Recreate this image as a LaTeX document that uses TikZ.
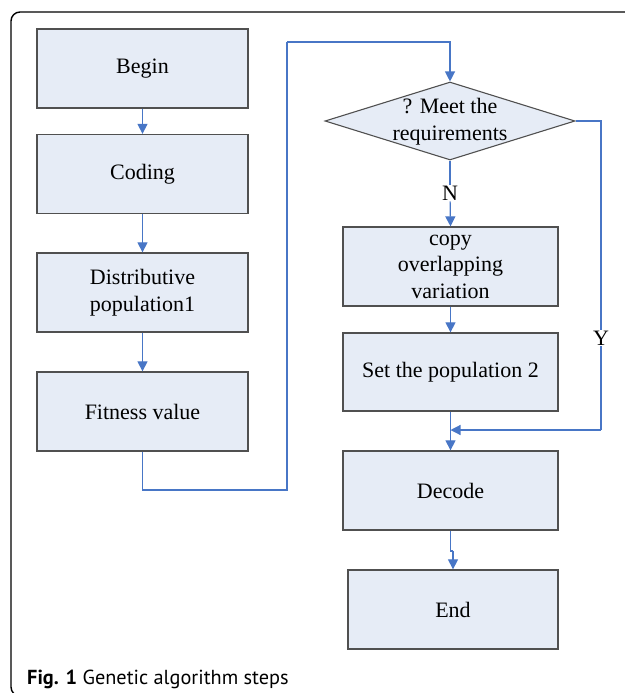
\documentclass[tikz,border=0pt]{standalone}
\usepackage{fontspec}
\setmainfont{Liberation Serif}
\newfontfamily\capfont{PT Sans}
\usetikzlibrary{arrows.meta,shapes.geometric}
\definecolor{boxfill}{RGB}{230,236,246}
\definecolor{boxline}{RGB}{80,80,80}
\definecolor{conblue}{RGB}{72,118,198}
\tikzset{
  stepbox/.style={draw=boxline, fill=boxfill, line width=1.3pt, inner sep=0pt,
    minimum width=211pt, minimum height=79pt, align=center,
    font=\rmfamily\fontsize{22}{26.5}\selectfont},
  conn/.style={draw=conblue, line width=1.2pt},
  arr/.style={conn, -{Triangle[length=10pt,width=10pt]}},
  lbl/.style={font=\rmfamily\fontsize{22}{26.5}\selectfont, inner sep=2pt}
}
\begin{document}
\begin{tikzpicture}[x=1pt,y=-1pt]
\useasboundingbox (0,0) rectangle (624,693);
% frame
\draw[line width=1.4pt, rounded corners=9pt] (11,12) rectangle (700,696);
% left column
\node[stepbox] (begin) at (142.5,68.5) {Begin};
\node[stepbox] (coding) at (142.5,174) {Coding};
\node[stepbox] (dist) at (142.5,292.5) {Distributive\\population1};
\node[stepbox] (fit) at (142.5,411.5) {Fitness value};
% right column
\node[draw=boxline, fill=boxfill, line width=1.1pt, shape=diamond, inner sep=0pt,
      minimum width=250pt, minimum height=78pt] (dia) at (450,121) {};
\node[lbl, align=center] (diatext) at (450,121.5) {? Meet the\\requirements};
\node[stepbox, minimum width=215pt] (copy) at (450.5,266.5) {copy\\overlapping\\variation};
\node[stepbox, minimum width=215pt, minimum height=78pt] (setpop) at (450.5,372) {Set the population 2};
\node[stepbox, minimum width=215pt] (dec) at (450.5,490.5) {Decode};
\node[stepbox, minimum width=210pt] (end) at (453,609.5) {End};
% labels
\node[lbl, inner sep=1pt] (nlbl) at (450,193) {N};
\coordinate (c1) at (287,490);
\coordinate (c2) at (287,42);
\coordinate (c3) at (601,430);
\coordinate (c4) at (453,551);
% connectors
\draw[arr] (begin) -- (coding);
\draw[arr] (coding) -- (dist);
\draw[arr] (dist) -- (fit);
\draw[conn] (fit.south) |- (c1) -- (c2);
\draw[arr] (c2) -| (dia.north);
\draw[conn] (dia.south) -- (nlbl);
\draw[arr] (nlbl) -- (copy.north);
\draw[arr] (copy) -- (setpop);
\draw[arr] (setpop) -- (dec);
\draw[conn] (dia.east) -| (c3);
\draw[arr] (c3) -- (c3 -| dec.north);
\node[lbl, fill=white, inner sep=1pt] (ylbl) at (601,338) {Y};
\draw[conn] (dec.south) |- (c4);
\draw[arr] (c4) -- (end.north);
% caption
\node[anchor=base west, inner sep=0pt, font=\capfont\fontsize{20.3}{24}\selectfont] (cap) at (27,684)
  {\textbf{Fig. 1} Genetic algorithm steps};
\end{tikzpicture}
\end{document}
